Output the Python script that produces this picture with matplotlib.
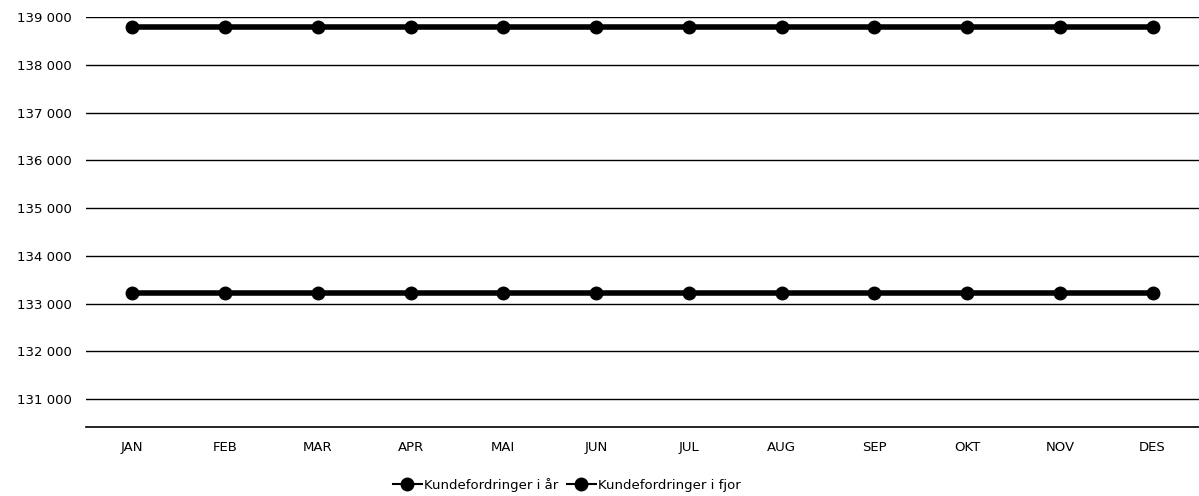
import matplotlib
matplotlib.use('Agg')
import matplotlib.pyplot as plt
from matplotlib.ticker import FuncFormatter

months = ['JAN', 'FEB', 'MAR', 'APR', 'MAI', 'JUN', 'JUL', 'AUG', 'SEP', 'OKT', 'NOV', 'DES']
i_aar = [133220] * 12
i_fjor = [138790] * 12
yticks = [131000, 132000, 133000, 134000, 135000, 136000, 137000, 138000, 139000]

fig = plt.figure(figsize=(11.99, 4.96), dpi=100)
ax = fig.add_axes([0.0717, 0.139, 0.9283, 0.8266])

x = range(len(months))
ax.plot(x, i_aar, color='black', lw=4, marker='o', ms=9, label='Kundefordringer i år')
ax.plot(x, i_fjor, color='black', lw=4, marker='o', ms=9, label='Kundefordringer i fjor')

ax.set_xlim(-0.5, 11.5)
ax.set_ylim(130415, 139000)
ax.set_yticks(yticks)
ax.yaxis.set_major_formatter(FuncFormatter(lambda v, p: '{:,.0f}'.format(v).replace(',', ' ')))
ax.set_xticks(list(x))
ax.set_xticklabels(months)
ax.grid(axis='y', color='black', lw=1)
ax.set_axisbelow(True)
for s in ['left', 'right', 'top']:
    ax.spines[s].set_visible(False)
ax.spines['bottom'].set_linewidth(1.2)
ax.tick_params(length=0, labelsize=9.5, pad=10)

leg = ax.legend(loc='upper center', bbox_to_anchor=(0.432, -0.095), ncol=2, frameon=False,
                fontsize=9.5, handlelength=2.2, handletextpad=0.2, columnspacing=0.6)
for ln in leg.get_lines():
    ln.set_linewidth(1.5)

fig.savefig('out.png', dpi=100)
